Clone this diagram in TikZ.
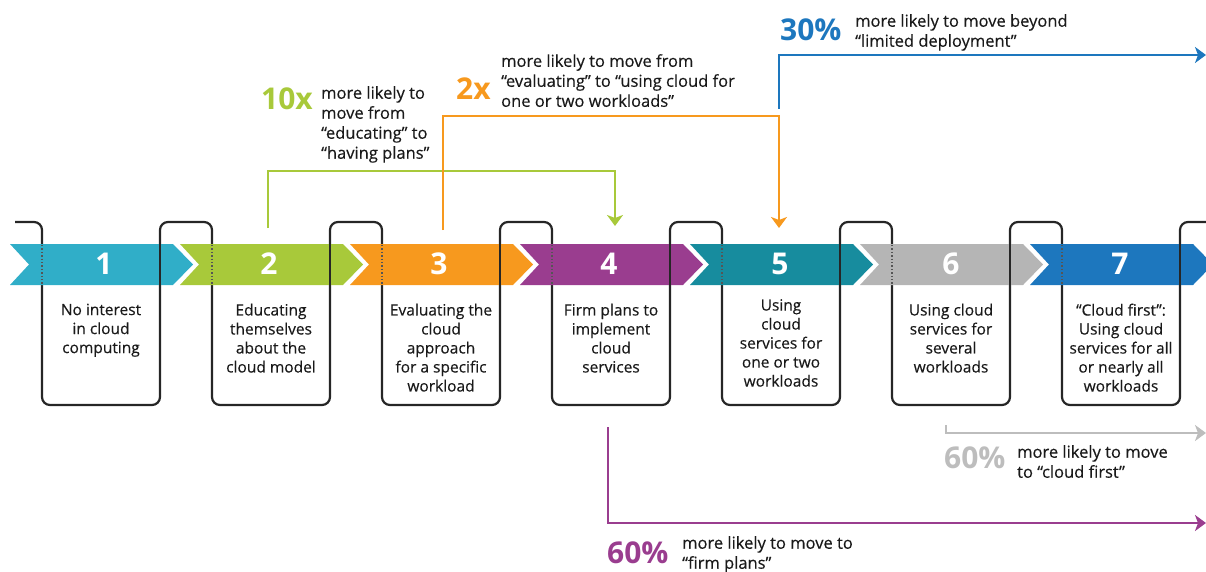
\documentclass[tikz,border=0pt]{standalone}
\usepackage{fontspec}
\setmainfont{Open Sans}
\newfontfamily\txtfont{Open Sans}[FakeBold=0.35]
\usetikzlibrary{arrows.meta}
\definecolor{cA}{HTML}{30AEC8}
\definecolor{cB}{HTML}{A8C93A}
\definecolor{cC}{HTML}{F7991E}
\definecolor{cD}{HTML}{9A3D8F}
\definecolor{cE}{HTML}{178C9E}
\definecolor{cF}{HTML}{B5B5B5}
\definecolor{cG}{HTML}{1D77BE}
\definecolor{grayC}{HTML}{BDBDBD}
\definecolor{lineC}{HTML}{262626}
\definecolor{dotC}{HTML}{555555}
\definecolor{txtC}{HTML}{1A1A1A}
\begin{document}
\begin{tikzpicture}[x=1pt,y=-1pt,
  serp/.style={line width=2.2pt, draw=lineC, rounded corners=8pt},
  serpseg/.style={line width=2.2pt, draw=lineC},
  dotseg/.style={line width=1.3pt, draw=dotC, dash pattern=on 1.4pt off 2pt},
  conn/.style={line width=2.8pt, -{Stealth[length=11pt,width=16pt,inset=3pt]}},
  boxtext/.style={align=center, font=\txtfont\fontsize{15.5}{19}\selectfont, inner sep=0pt, anchor=north, text=txtC},
  note/.style={align=left, font=\txtfont\fontsize{16.5}{20}\selectfont, inner sep=0pt, anchor=north west, text=txtC},
  big/.style={font=\bfseries\fontsize{30}{30}\selectfont, inner sep=0pt, anchor=base west},
  num/.style={font=\bfseries\fontsize{30}{30}\selectfont, text=white, inner sep=0pt, anchor=base}
]
\useasboundingbox (0,0) rectangle (1206,572);
\clip (0,0) rectangle (1206,572);

% serpentine line
\draw[serp] (15,222) -- (42,222) -- (42,405) -- (160,405) -- (160,222)
  -- (212,222) -- (212,405) -- (330,405) -- (330,222)
  -- (382,222) -- (382,405) -- (500,405) -- (500,222)
  -- (552,222) -- (552,405) -- (670,405) -- (670,222)
  -- (722,222) -- (722,405) -- (840,405) -- (840,222)
  -- (892,222) -- (892,405) -- (1010,405) -- (1010,222)
  -- (1062,222) -- (1062,405) -- (1180,405) -- (1180,222)
  -- (1218,222) -- (1218,405);

% chevrons
\foreach \c [count=\i from 0] in {cA,cB,cC,cD,cE,cF,cG} {
  \pgfmathsetmacro\L{10+170*\i}
  \fill[\c] (\L,244) -- ++(163,0) -- ++(20,20.5) -- ++(-20,20.5) -- ++(-163,0) -- ++(19,-20.5) -- cycle;
}

% line crossings over chevrons
\foreach \a in {160,330,500,670,840,1010,1180} {
  \draw[serpseg] (\a,243) -- (\a,286);
}
\foreach \d in {42,212,382,552,722,892,1062} {
  \draw[dotseg] (\d,245) -- (\d,285);
}

% numbers
\node[num] (n1) at (104,274) {1};
\node[num] (n2) at (269,274) {2};
\node[num] (n3) at (439,274) {3};
\node[num] (n4) at (609,274) {4};
\node[num] (n5) at (780,274) {5};
\node[num] (n6) at (951,274) {6};
\node[num] (n7) at (1120,274) {7};

% box texts
\node[boxtext] (t1) at (101,303.5) {No interest\\in cloud\\computing};
\node[boxtext] (t2) at (271,303.5) {Educating\\themselves\\about the\\cloud model};
\node[boxtext] (t3) at (441,303.5) {Evaluating the\\cloud\\approach\\for a specific\\workload};
\node[boxtext] (t4) at (611,303.5) {Firm plans to\\implement\\cloud\\services};
\node[boxtext] (t5) at (781,299) {Using\\cloud\\services for\\one or two\\workloads};
\node[boxtext] (t6) at (951,303.5) {Using cloud\\services for\\several\\workloads};
\node[boxtext] (t7) at (1121,303.5) {“Cloud first”:\\Using cloud\\services for all\\or nearly all\\workloads};

% connectors
\coordinate (g1) at (268,228);
\coordinate (gy) at (0,171);
\coordinate (g2) at (615,226);
\draw[conn, cB] (g1) -- (g1 |- gy) -| (g2);

\coordinate (o1) at (443,230);
\coordinate (oy) at (0,116);
\coordinate (o2) at (779,228);
\draw[conn, cC] (o1) -- (o1 |- oy) -| (o2);

\coordinate (b1) at (779,109);
\coordinate (b2) at (1206,55);
\draw[conn, cG] (b1) |- (b2);

\coordinate (r1) at (946,425);
\coordinate (r2) at (1206,433);
\draw[conn, grayC] (r1) |- (r2);

\coordinate (p1) at (608,427);
\coordinate (p2) at (1206,523);
\draw[conn, cD] (p1) |- (p2);

% annotations
\node[big, text=cB] (k10) at (261,110) {10x};
\node[note] (m10) at (321,86) {more likely to\\move from\\“educating” to\\“having plans”};
\node[big, text=cC] (k2) at (456,100) {2x};
\node[note] (m2) at (501,54) {more likely to move from\\“evaluating” to “using cloud for\\one or two workloads”};
\node[big, text=cG] (k30) at (780,41) {30\%};
\node[note] (m30) at (855,14) {more likely to move beyond\\“limited deployment”};
\node[big, text=grayC] (k60a) at (944,468) {60\%};
\node[note] (m60a) at (1017,445) {more likely to move\\to “cloud first”};
\node[big, text=cD] (k60b) at (607,563) {60\%};
\node[note] (m60b) at (682,536) {more likely to move to\\“firm plans”};
\end{tikzpicture}
\end{document}
